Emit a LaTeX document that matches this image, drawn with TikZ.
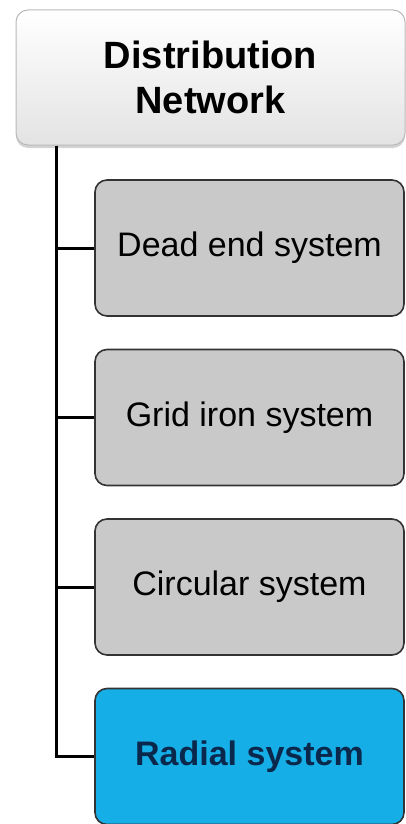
\documentclass[tikz,border=0pt]{standalone}
\usepackage{fontspec}
\setmainfont{Liberation Sans}
\usetikzlibrary{shadows}
\definecolor{boxgray}{RGB}{201,201,201}
\definecolor{radialblue}{RGB}{22,174,230}
\definecolor{navytext}{RGB}{10,40,75}
\tikzset{
  head box/.style={
    rounded corners=12pt, draw=gray!55, line width=1pt,
    top color=white, bottom color=gray!22,   % soft white-to-grey fill
    drop shadow={shadow xshift=0pt, shadow yshift=-3pt, opacity=0.35},
    minimum width=389pt, minimum height=135pt, align=center,
    font=\fontsize{38}{45}\selectfont\bfseries
  },
  item box/.style={
    rounded corners=12pt, draw=black!80, line width=1.6pt, fill=boxgray,
    minimum width=309pt, minimum height=136pt, inner sep=0pt,
    font=\fontsize{34}{40}\selectfont
  },
  radial box/.style={
    item box, fill=radialblue, text=navytext,
    font=\fontsize{34}{40}\selectfont\bfseries
  },
  link/.style={line width=3pt, black}
}

\begin{document}
\begin{tikzpicture}[x=1pt, y=-1pt]
    \useasboundingbox (0,0) rectangle (406,824);

    % Root of the tree
    \node[head box] (net) at (210.5,77.5) {Distribution\\Network};

    % Grey branches
    \foreach \nm/\txt/\yy in {dead/Dead end system/248, grid/Grid iron system/417.5, circ/Circular system/587} {
    	\node[item box] (\nm) at (249.5,\yy) {\txt};
    }
    \node[radial box] (radial) at (249.5,756.5) {Radial system};

    % Spine down the left side
    \coordinate (spine) at ([xshift=41pt]net.south west);
    \foreach \nm in {dead,grid,circ,radial} {
    	\draw[link] (spine) |- (\nm.west);
    }
\end{tikzpicture}
\end{document}
